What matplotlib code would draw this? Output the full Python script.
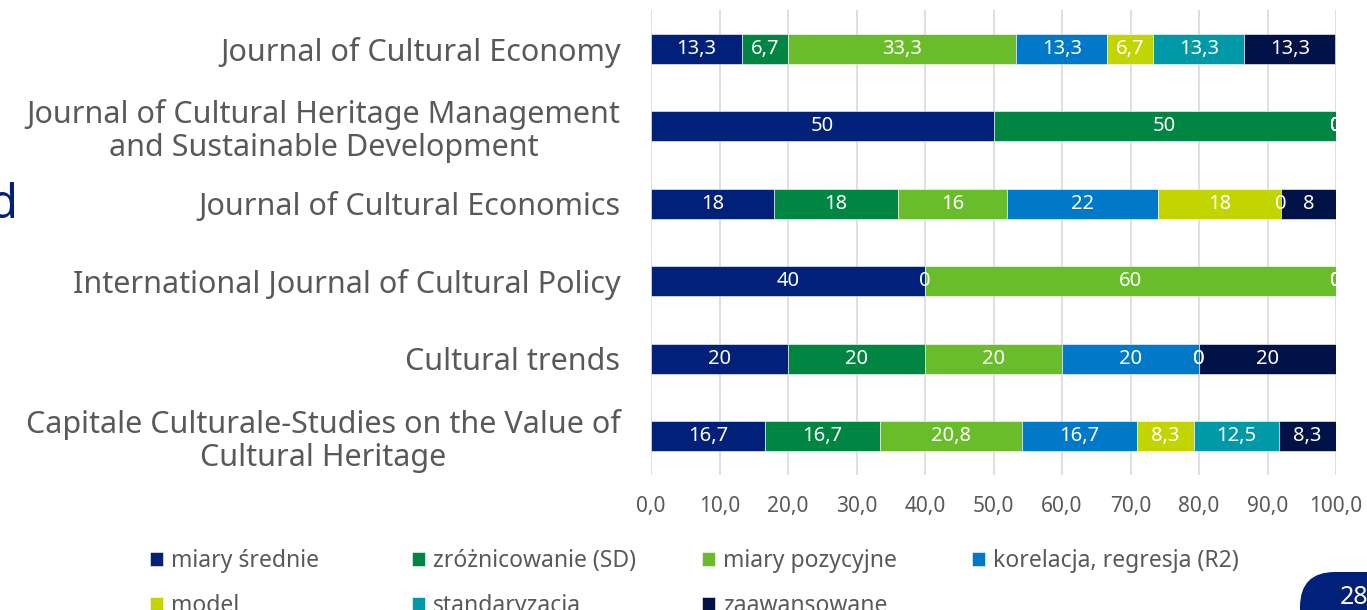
import matplotlib
matplotlib.use("Agg")
import matplotlib.pyplot as plt
from matplotlib.patches import FancyBboxPatch
import numpy as np

plt.rcParams['font.family'] = ['Noto Sans', 'DejaVu Sans']

journals = [
    'Journal of Cultural Economy',
    'Journal of Cultural Heritage Management\nand Sustainable Development',
    'Journal of Cultural Economics',
    'International Journal of Cultural Policy',
    'Cultural trends',
    'Capitale Culturale-Studies on the Value of\nCultural Heritage',
]
series = ['miary średnie', 'zróżnicowanie (SD)', 'miary pozycyjne',
          'korelacja, regresja (R2)', 'model', 'standaryzacja', 'zaawansowane']
colors = ['#00207A', '#008542', '#6ABD2A', '#0079C8', '#C2D500', '#0099A8', '#001247']

miary_srednie = [13.3, 50, 18, 40, 20, 16.7]
zroznicowanie = [6.7, 50, 18, 0, 20, 16.7]
miary_pozycyjne = [33.3, 0, 16, 60, 20, 20.8]
korelacja = [13.3, 0, 22, 0, 20, 16.7]
model = [6.7, 0, 18, 0, 0, 8.3]
standaryzacja = [13.3, 0, 0, 0, 0, 12.5]
zaawansowane = [13.3, 0, 8, 0, 20, 8.3]
values = [miary_srednie, zroznicowanie, miary_pozycyjne, korelacja,
          model, standaryzacja, zaawansowane]

x_ticks = [0, 10, 20, 30, 40, 50, 60, 70, 80, 90, 100]


def fmt(v):
    if float(v).is_integer():
        return str(int(v))
    return f'{v:.1f}'.replace('.', ',')


fig = plt.figure(figsize=(13.67, 6.10), dpi=100)
ax = fig.add_axes([651 / 1367, 1 - 475 / 610, 685 / 1367, 465 / 610])

y = np.arange(len(journals))
left = np.zeros(len(journals))
handles = []
for name, vals, col in zip(series, values, colors):
    bars = ax.barh(y, vals, left=left, height=0.39, color=col, label=name,
                   edgecolor='white', linewidth=0.4, zorder=3)
    handles.append(bars)
    for yi, v, l in zip(y, vals, left):
        t = ax.text(l + v / 2, yi, fmt(v), ha='center', va='center',
                    color='white', fontsize=14.5, zorder=4)
        t.set_clip_box(ax.bbox)
        t.set_clip_on(True)
    left += np.array(vals)

ax.set_xlim(0, 100)
ax.set_ylim(len(journals) - 0.5, -0.5)
ax.set_xticks(x_ticks)
ax.set_xticklabels([f'{t:.1f}'.replace('.', ',') for t in x_ticks],
                   fontsize=15, color='#595959')
ax.set_yticks(y)
ax.set_yticklabels(journals, fontsize=22, color='#595959',
                   multialignment='center', linespacing=1.1)
ax.tick_params(axis='both', length=0)
ax.tick_params(axis='x', pad=15)
ax.tick_params(axis='y', pad=22)
ax.grid(axis='x', color='#D9D9D9', linewidth=1.2, zorder=0)
for s in ax.spines.values():
    s.set_visible(False)

# legend laid out in 4 columns, row by row like the original
legend_cols = [[0, 4], [1, 5], [2, 6], [3]]
col_x = [150, 412, 702, 972]
for idx, cx in zip(legend_cols, col_x):
    leg = fig.legend([handles[i] for i in idx], [series[i] for i in idx],
                     ncol=1, loc='upper left',
                     bbox_to_anchor=(cx / 1367, 1 - 549 / 610),
                     frameon=False, fontsize=16.5, handlelength=0.55,
                     handleheight=0.55, handletextpad=0.35, labelspacing=0.9,
                     borderpad=0, borderaxespad=0, labelcolor='#595959')

# slide leftovers: title fragment and page badge
fig.text(-12 / 1367, 1 - 205 / 610, 'd', fontsize=34, color='#00207A',
         ha='left', va='center')
badge = FancyBboxPatch((13.0, -0.5), 1.2, 0.88, boxstyle='round,pad=0,rounding_size=0.35',
                       transform=fig.dpi_scale_trans, facecolor='#00207A',
                       edgecolor='none')
fig.patches.append(badge)
fig.text(1340 / 1367, 1 - 597 / 610, '28', fontsize=18, color='white',
         fontweight='bold', ha='left', va='center')

fig.savefig('out.png', dpi=100)
